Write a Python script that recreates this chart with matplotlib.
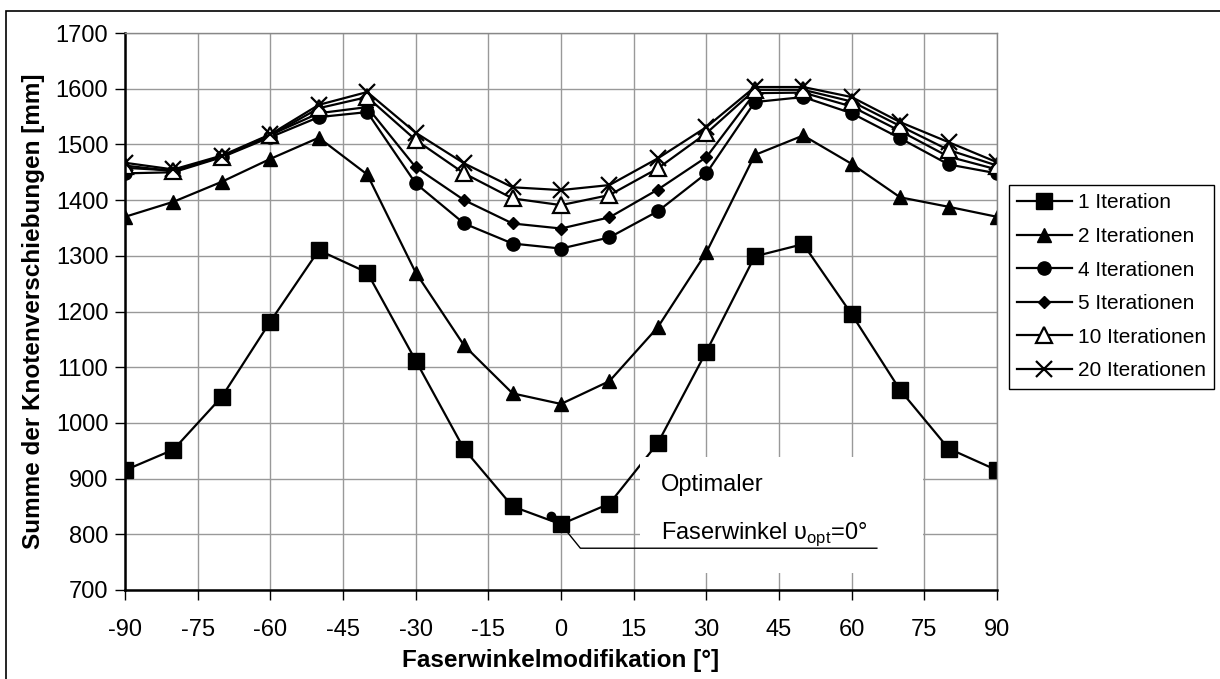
import matplotlib
matplotlib.use("Agg")
import matplotlib.pyplot as plt
from matplotlib.patches import Rectangle

plt.rcParams['font.family'] = ['Liberation Sans', 'DejaVu Sans']
plt.rcParams['mathtext.fontset'] = 'custom'
plt.rcParams['mathtext.rm'] = 'Liberation Sans'
plt.rcParams['axes.unicode_minus'] = False

# Faserwinkel
winkel = [-90, -80, -70, -60, -50, -40, -30, -20, -10, 0,
          10, 20, 30, 40, 50, 60, 70, 80, 90]

# Summe der Knotenverschiebungen je Iterationsanzahl
it1 = [915, 952, 1047, 1182, 1310, 1270, 1112, 953, 850, 818,
       855, 964, 1128, 1299, 1321, 1195, 1059, 954, 915]
it2 = [1370, 1397, 1433, 1474, 1512, 1446, 1270, 1139, 1053, 1034,
       1075, 1172, 1306, 1481, 1516, 1465, 1405, 1388, 1370]
it4 = [1448, 1450, 1477, 1513, 1549, 1558, 1430, 1358, 1322, 1313,
       1333, 1380, 1448, 1576, 1585, 1556, 1511, 1464, 1448]
it5 = [1458, 1453, 1478, 1517, 1556, 1567, 1459, 1400, 1358, 1349,
       1369, 1419, 1477, 1592, 1593, 1568, 1524, 1478, 1455]
it10 = [1462, 1452, 1478, 1516, 1565, 1585, 1508, 1448, 1403, 1391,
        1409, 1457, 1520, 1598, 1598, 1577, 1533, 1490, 1462]
it20 = [1467, 1455, 1480, 1518, 1571, 1594, 1521, 1466, 1423, 1418,
        1427, 1475, 1531, 1603, 1603, 1585, 1540, 1504, 1468]

x_ticks = [-90, -75, -60, -45, -30, -15, 0, 15, 30, 45, 60, 75, 90]
y_ticks = [700, 800, 900, 1000, 1100, 1200, 1300, 1400, 1500, 1600, 1700]

W, H = 1220, 679
fig = plt.figure(figsize=(W / 100, H / 100), dpi=100)
ax = fig.add_axes([125 / W, 1 - 590 / H, (997 - 125) / W, (590 - 33) / H])

# Rahmen um das ganze Diagramm
fig.patches.append(Rectangle((6 / W, -0.1), 1.2, 1 - 11 / H + 0.1,
                             transform=fig.transFigure, fill=False,
                             edgecolor='black', linewidth=1.2))

kw = dict(color='black', linewidth=1.6)
ax.plot(winkel, it1, marker='s', markersize=11, label='1 Iteration', **kw)
ax.plot(winkel, it2, marker='^', markersize=10, label='2 Iterationen', **kw)
ax.plot(winkel, it4, marker='o', markersize=9.5, label='4 Iterationen', **kw)
ax.plot(winkel, it5, marker='D', markersize=6, label='5 Iterationen', **kw)
ax.plot(winkel, it10, marker='^', markersize=11, markerfacecolor='white',
        markeredgewidth=1.6, label='10 Iterationen', **kw)
ax.plot(winkel, it20, marker='x', markersize=12, markeredgewidth=1.6,
        label='20 Iterationen', **kw)

ax.set_xlim(-90, 90)
ax.set_ylim(700, 1700)
ax.set_xticks(x_ticks)
ax.set_yticks(y_ticks)
ax.grid(True, color='#999999', linewidth=1)
ax.set_axisbelow(True)
ax.tick_params(axis='both', labelsize=17, length=7, width=1, color='black')
ax.tick_params(axis='x', pad=14)
ax.tick_params(axis='y', pad=5)
for s in ['left', 'bottom']:
    ax.spines[s].set_linewidth(1.8)
for s in ['top', 'right']:
    ax.spines[s].set_color('#888888')
    ax.spines[s].set_linewidth(1)

ax.set_xlabel('Faserwinkelmodifikation [°]', fontsize=17.5, fontweight='bold',
              labelpad=6)
ax.set_ylabel('Summe der Knotenverschiebungen [mm]', fontsize=17.5,
              fontweight='bold', labelpad=8)

# Beschriftung optimaler Faserwinkel
ax.add_patch(Rectangle((16.3, 731), 58.4, 208, facecolor='white',
                       edgecolor='none', zorder=3))
ax.plot([-2], [833], marker='o', markersize=6, color='black', zorder=2)
ax.plot([0, 4, 65.2], [818, 775, 775], color='black', linewidth=1, zorder=4)
ax.text(20.6, 878, 'Optimaler', fontsize=17, va='baseline', zorder=5)
ax.text(20.6, 792, r'Faserwinkel υ$_{\mathrm{opt}}$=0°', fontsize=17,
        va='baseline', zorder=5)

leg = fig.legend(loc='upper left', bbox_to_anchor=(1009 / W, 1 - 185 / H),
                 fontsize=15, frameon=True, fancybox=False, framealpha=1,
                 edgecolor='black', handlelength=2.6, handletextpad=0.3,
                 labelspacing=0.7, borderpad=0.4, borderaxespad=0)
leg.get_frame().set_linewidth(1)

fig.savefig('out.png', dpi=100)
